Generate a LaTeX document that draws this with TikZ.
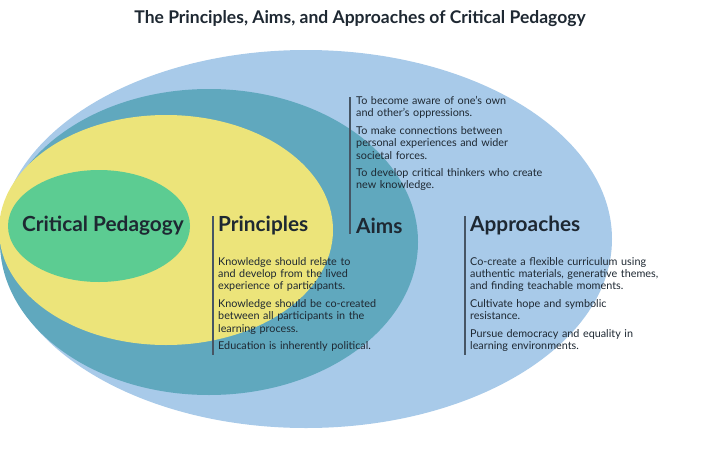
\documentclass[tikz,border=0pt]{standalone}
\usepackage{fontspec}
\setmainfont{Lato}
\usetikzlibrary{positioning}
\definecolor{outerblue}{RGB}{168,202,233}
\definecolor{midteal}{RGB}{96,168,190}
\definecolor{inneryellow}{RGB}{236,228,122}
\definecolor{coregreen}{RGB}{92,204,146}
\definecolor{inktext}{RGB}{30,40,50}
\definecolor{barcol}{RGB}{70,85,100}
\begin{document}
\begin{tikzpicture}[
				x=1pt, y=-1pt,
				heading/.style={
					font=\fontsize{20.8}{22}\selectfont\bfseries,
					text=inktext,
					anchor=west,
					inner sep=0pt
					},
				column/.style={
					font=\fontsize{10.8}{12.4}\selectfont,
					text=inktext,
					text width=#1,
					align=left,
					anchor=north west,
					inner sep=0pt
					},
				bar/.style={
					draw=barcol,
					line width=1.6pt
					}]
			    \useasboundingbox (0,0) rectangle (720,450);
			    % Ellipses
			    \fill [outerblue] (306,239) ellipse [x radius=306, y radius=189];
			    \fill [midteal] (209,242) ellipse [x radius=209, y radius=153];
			    \fill [inneryellow] (166,230) ellipse [x radius=167, y radius=115];
			    \fill [coregreen] (99,226) ellipse [x radius=91, y radius=56];

			    % Title
			    \node [font=\fontsize{17.5}{19}\selectfont\bfseries, text=inktext] (title) at (360,19) {The Principles, Aims, and Approaches of Critical Pedagogy};

			    % Headings
			    \node [heading] (core) at (22,226) {Critical Pedagogy};
			    \node [heading] (principles) at (218,226) {Principles};
			    \node [heading] (aims) at (356,226) {Aims};
			    \node [heading] (approaches) at (470,226) {Approaches};

			    % Texts
			    \node [column=220pt] (aimstext) at (356,96) {To become aware of one's own\\and other's oppressions.\\[5pt]To make connections between\\personal experiences and wider\\societal forces.\\[5pt]To develop critical thinkers who create\\new knowledge.};
			    \node [column=200pt] (principlestext) at (218,257) {Knowledge should relate to\\and develop from the lived\\experience of participants.\\[5pt]Knowledge should be co-created\\between all participants in the\\learning process.\\[5pt]Education is inherently political.};
			    \node [column=220pt] (approachestext) at (470,257) {Co-create a flexible curriculum using\\authentic materials, generative themes,\\and finding teachable moments.\\[5pt]Cultivate hope and symbolic\\resistance.\\[5pt]Pursue democracy and equality in\\learning environments.};

			    % Bars
			    \coordinate (aimstop) at (350,97);
			    \coordinate (aimsbot) at (350,234);
			    \coordinate (principlestop) at (213,216);
			    \coordinate (principlesbot) at (213,355);
			    \coordinate (approachestop) at (465,216);
			    \coordinate (approachesbot) at (465,355);
			    \path [bar] (aimstop) -- (aimsbot);
			    \path [bar] (principlestop) -- (principlesbot);
			    \path [bar] (approachestop) -- (approachesbot);
			\end{tikzpicture}
\end{document}
